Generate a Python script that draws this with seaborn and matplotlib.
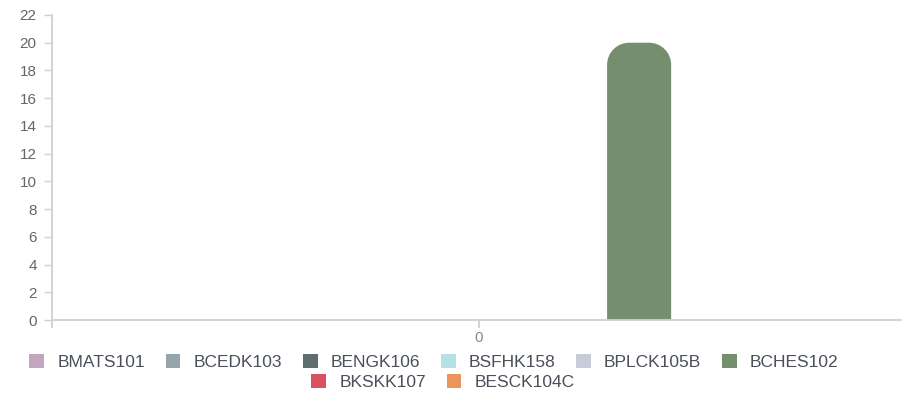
import matplotlib
matplotlib.use("Agg")
import matplotlib.pyplot as plt
import seaborn as sns
import pandas as pd
import numpy as np
from matplotlib.path import Path
from matplotlib.patches import PathPatch, Patch

categories = ["0"]
series = ["BMATS101", "BCEDK103", "BENGK106", "BSFHK158", "BPLCK105B",
          "BCHES102", "BKSKK107", "BESCK104C"]
values = [0, 0, 0, 0, 0, 20, 0, 0]
colors = ["#c4a5c0", "#95a5ab", "#5e6d70", "#b5e0e7", "#c6cdd8",
          "#758f6e", "#d9515f", "#ea955d"]
yticks = [0, 2, 4, 6, 8, 10, 12, 14, 16, 18, 20, 22]

sns.set_theme(style="white")
plt.rcParams["font.family"] = ["Liberation Sans", "DejaVu Sans"]

df = pd.DataFrame({"category": categories * len(series),
                   "series": series, "value": values})
palette = dict(zip(series, colors))

W, H = 902, 394
fig = plt.figure(figsize=(W / 100, H / 100), dpi=100)
ax = fig.add_axes([52 / W, (H - 320) / H, 854 / W, 305 / H])

sns.barplot(data=df, x="category", y="value", hue="series",
            hue_order=series, palette=palette, width=1.0, gap=0.4,
            linewidth=0, legend=False, ax=ax, saturation=1)

ax.set_xlim(-0.5, 0.5)
ax.set_ylim(0, 22)
ax.set_yticks(yticks)
ax.set_xlabel("")
ax.set_ylabel("")

# rounded tops
px_per_x = 854 / 1.0
px_per_y = 305 / 22
rpx = 22
for p in list(ax.patches):
    h = p.get_height()
    if h <= 0:
        continue
    x0 = p.get_x()
    w = p.get_width()
    x1 = x0 + w
    y0 = p.get_y()
    rx = min(rpx / px_per_x, w / 2)
    ry = min(rpx / px_per_y, h)
    k = 0.5523
    top = y0 + h
    verts = [(x0, y0), (x0, top - ry),
             (x0, top - ry + k * ry), (x0 + rx - k * rx, top), (x0 + rx, top),
             (x1 - rx, top),
             (x1 - rx + k * rx, top), (x1, top - ry + k * ry), (x1, top - ry),
             (x1, y0), (x0, y0)]
    codes = [Path.MOVETO, Path.LINETO,
             Path.CURVE4, Path.CURVE4, Path.CURVE4,
             Path.LINETO,
             Path.CURVE4, Path.CURVE4, Path.CURVE4,
             Path.LINETO, Path.CLOSEPOLY]
    fc = p.get_facecolor()
    p.remove()
    ax.add_patch(PathPatch(Path(verts, codes), facecolor=fc, edgecolor="none", zorder=2))

for s in ["top", "right"]:
    ax.spines[s].set_visible(False)
ax.spines["left"].set_color("#d0d0d0")
ax.spines["bottom"].set_color("#d0d0d0")
ax.spines["left"].set_linewidth(1.3)
ax.spines["bottom"].set_linewidth(1.3)
ax.spines["left"].set_bounds(-0.5, 22)

ax.tick_params(axis="y", length=6, width=1, color="#d0d0d0", pad=5,
               labelsize=11, labelcolor="#666666", left=True)
ax.tick_params(axis="x", length=6, width=1.3, color="#d0d0d0", pad=2,
               labelsize=11, labelcolor="#888888", bottom=True)

handles = [Patch(facecolor=c, edgecolor="none") for c in colors]
kw = dict(frameon=False, fontsize=12.5, handlelength=0.85, handleheight=0.85,
          handletextpad=0.75, columnspacing=1.2, labelcolor="#4a4f5a",
          loc="center", borderaxespad=0, borderpad=0)
fig.legend(handles[:6], series[:6], ncol=6,
           bbox_to_anchor=(434 / W, 1 - 362 / H), **kw)
fig.legend(handles[6:], series[6:], ncol=2,
           bbox_to_anchor=(443 / W, 1 - 382 / H), **kw)

fig.savefig("out.png", dpi=100)
